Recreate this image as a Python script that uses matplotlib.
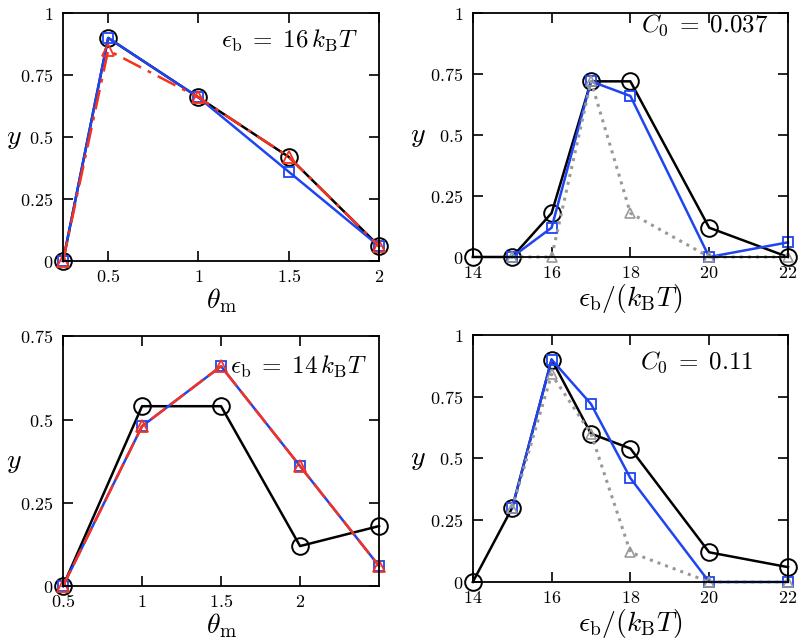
import matplotlib
matplotlib.use("Agg")
import matplotlib.pyplot as plt

plt.rcParams['mathtext.fontset'] = 'cm'
plt.rcParams['font.family'] = 'serif'
plt.rcParams['font.serif'] = ['DejaVu Serif']

blue = '#1f45f0'
red = '#f5321e'
gray = '#999999'

# top left: eps_b = 16 kBT
theta_a = [0.25, 0.5, 1.0, 1.5, 2.0]
circ_a = [0.0, 0.90, 0.66, 0.42, 0.06]
sq_a = [0.0, 0.90, 0.66, 0.36, 0.06]
tri_a = [0.0, 0.85, 0.66, 0.42, 0.06]

# bottom left: eps_b = 14 kBT
theta_c = [0.5, 1.0, 1.5, 2.0, 2.5]
circ_c = [0.0, 0.54, 0.54, 0.12, 0.18]
sq_c = [0.0, 0.48, 0.66, 0.36, 0.06]
tri_c = [0.0, 0.48, 0.66, 0.36, 0.06]

# top right: C0 = 0.037
eps_b_circ = [14, 15, 16, 17, 18, 20, 22]
circ_b = [0.0, 0.0, 0.18, 0.72, 0.72, 0.12, 0.0]
eps_b_sq = [15, 16, 17, 18, 20, 22]
sq_b = [0.0, 0.12, 0.72, 0.66, 0.0, 0.06]
tri_b = [0.0, 0.0, 0.72, 0.18, 0.0, 0.0]

# bottom right: C0 = 0.11
circ_d = [0.0, 0.30, 0.90, 0.60, 0.54, 0.12, 0.06]
sq_d = [0.30, 0.90, 0.72, 0.42, 0.0, 0.0]
tri_d = [0.30, 0.84, 0.60, 0.12, 0.0, 0.0]

yticks1 = [0, 0.25, 0.5, 0.75, 1]
ylabels1 = ['0', '0.25', '0.5', '0.75', '1']
yticks2 = [0, 0.25, 0.5, 0.75]
ylabels2 = ['0', '0.25', '0.5', '0.75']
theta_ticks_a = [0.5, 1, 1.5, 2]
theta_ticks_c = [0.5, 1, 1.5, 2]
theta_labels = ['0.5', '1', '1.5', '2']
eps_ticks = [14, 16, 18, 20, 22]
eps_labels = ['14', '16', '18', '20', '22']

fig = plt.figure(figsize=(8.0, 6.42), dpi=100)
ax_a = fig.add_axes([0.0788, 0.5935, 0.395, 0.386])
ax_b = fig.add_axes([0.591, 0.5997, 0.394, 0.380])
ax_c = fig.add_axes([0.0788, 0.0872, 0.395, 0.389])
ax_d = fig.add_axes([0.591, 0.0935, 0.394, 0.385])


def style(ax, xt, xl, yt, yl, label_x):
    ax.set_xticks(xt)
    ax.set_xticklabels(['$' + s + '$' for s in xl], fontsize=13)
    ax.set_yticks(yt)
    ax.set_yticklabels(['$' + s + '$' for s in yl], fontsize=13)
    ax.tick_params(direction='in', top=True, right=True, length=7, width=1.2)
    ax.tick_params(axis='y', pad=7)
    ax.tick_params(axis='x', pad=5)
    for s in ax.spines.values():
        s.set_linewidth(1.3)
    ax.set_ylabel('$y$', fontsize=20, rotation=0, va='center')
    ax.yaxis.set_label_coords(label_x, 0.5)


mk = dict(mfc='none', clip_on=False)

# top left
ax_a.plot(theta_a, circ_a, '-', color='black', lw=1.8, marker='o', ms=12, mew=1.4, **mk)
ax_a.plot(theta_a, sq_a, '-', color=blue, lw=1.8, marker='s', ms=7, mew=1.3, **mk)
ax_a.plot(theta_a, tri_a, color=red, lw=1.8, dashes=(8, 3, 1.5, 3), marker='^', ms=9, mew=1.3, **mk)
ax_a.set_xlim(0.25, 2)
ax_a.set_ylim(0, 1)
style(ax_a, theta_ticks_a, theta_labels, yticks1, ylabels1, -0.155)
ax_a.set_xlabel(r'$\theta_{\rm m}$', fontsize=20, labelpad=0)
ax_a.text(0.935, 0.89, r'$\epsilon_{\rm b}\;=\;16\,k_{\rm B}T$', transform=ax_a.transAxes,
          fontsize=18, ha='right', va='center')

# top right
ax_b.plot(eps_b_circ, circ_b, '-', color='black', lw=1.8, marker='o', ms=12, mew=1.4, **mk)
ax_b.plot(eps_b_sq, sq_b, '-', color=blue, lw=1.8, marker='s', ms=7, mew=1.3, **mk)
ax_b.plot(eps_b_sq, tri_b, ':', color=gray, lw=2.2, marker='^', ms=7, mew=1.2, **mk)
ax_b.set_xlim(14, 22)
ax_b.set_ylim(0, 1)
style(ax_b, eps_ticks, eps_labels, yticks1, ylabels1, -0.175)
ax_b.set_xlabel(r'$\epsilon_{\rm b}/(k_{\rm B}T)$', fontsize=20, labelpad=0)
ax_b.text(0.937, 0.95, r'$C_0\;=\;0.037$', transform=ax_b.transAxes,
          fontsize=18, ha='right', va='center')

# bottom left
ax_c.plot(theta_c, circ_c, '-', color='black', lw=1.8, marker='o', ms=12, mew=1.4, **mk)
ax_c.plot(theta_c, sq_c, '-', color=blue, lw=1.8, marker='s', ms=7, mew=1.3, **mk)
ax_c.plot(theta_c, tri_c, color=red, lw=1.8, dashes=(7, 2.5), marker='^', ms=9, mew=1.3, **mk)
ax_c.set_xlim(0.5, 2.5)
ax_c.set_ylim(0, 0.75)
style(ax_c, theta_ticks_c, theta_labels, yticks2, ylabels2, -0.155)
ax_c.set_xlabel(r'$\theta_{\rm m}$', fontsize=20, labelpad=0)
ax_c.text(0.962, 0.876, r'$\epsilon_{\rm b}\;=\;14\,k_{\rm B}T$', transform=ax_c.transAxes,
          fontsize=18, ha='right', va='center')

# bottom right
ax_d.plot(eps_b_circ, circ_d, '-', color='black', lw=1.8, marker='o', ms=12, mew=1.4, **mk)
ax_d.plot(eps_b_sq, sq_d, '-', color=blue, lw=1.8, marker='s', ms=7, mew=1.3, **mk)
ax_d.plot(eps_b_sq, tri_d, ':', color=gray, lw=2.2, marker='^', ms=7, mew=1.2, **mk)
ax_d.set_xlim(14, 22)
ax_d.set_ylim(0, 1)
style(ax_d, eps_ticks, eps_labels, yticks1, ylabels1, -0.175)
ax_d.set_xlabel(r'$\epsilon_{\rm b}/(k_{\rm B}T)$', fontsize=20, labelpad=0)
ax_d.text(0.889, 0.89, r'$C_0\;=\;0.11$', transform=ax_d.transAxes,
          fontsize=18, ha='right', va='center')

fig.savefig('out.png', dpi=100)
